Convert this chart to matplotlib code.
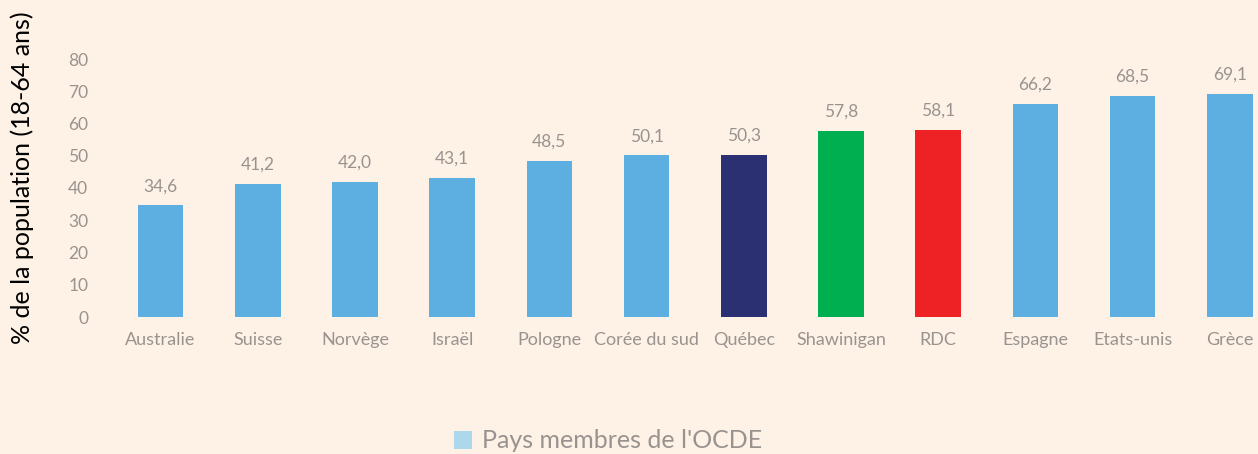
import matplotlib
matplotlib.use("Agg")
import matplotlib.pyplot as plt
from matplotlib.patches import Patch

categories = ["Australie", "Suisse", "Norvège", "Israël", "Pologne", "Corée du sud",
              "Québec", "Shawinigan", "RDC", "Espagne", "Etats-unis", "Grèce"]
values = [34.6, 41.2, 42.0, 43.1, 48.5, 50.1, 50.3, 57.8, 58.1, 66.2, 68.5, 69.1]
value_labels = ["34,6", "41,2", "42,0", "43,1", "48,5", "50,1", "50,3", "57,8", "58,1", "66,2", "68,5", "69,1"]
yticks = [0, 10, 20, 30, 40, 50, 60, 70, 80]

BLUE = "#5DAFE1"
colors = [BLUE] * 6 + ["#2A3072", "#00B050", "#EE2124"] + [BLUE] * 3
BG = "#FEF2E7"
GREY = "#99938F"
FONT = "Lato"

W, H = 1258, 454
fig = plt.figure(figsize=(W / 100, H / 100), dpi=100, facecolor=BG)
left, right = 112 / W, 1258 / W
bottom, top = (H - 317) / H, (H - 59) / H
ax = fig.add_axes([left, bottom, right - left, top - bottom], facecolor=BG)

x = list(range(len(categories)))
bars = ax.bar(x, values, width=0.47, color=colors, zorder=2)
for xi, v, lab in zip(x, values, value_labels):
    ax.annotate(lab, (xi, v), xytext=(0, 8), textcoords="offset points",
                ha="center", va="bottom", fontsize=12.5, color=GREY,
                family=FONT, annotation_clip=False)

ax.set_xlim(-0.5, 11.29)
ax.set_ylim(0, 80)
ax.set_yticks(yticks)
ax.set_yticklabels([str(t) for t in yticks], family=FONT, fontsize=12.5, color=GREY)
ax.set_xticks(x)
ax.set_xticklabels(categories, family=FONT, fontsize=13, color=GREY)
ax.tick_params(axis="y", length=0, pad=17)
ax.tick_params(axis="x", length=0, pad=11)
for s in ax.spines.values():
    s.set_visible(False)

fig.text(22 / W, 1 - 178 / H, "% de la population (18-64 ans)", rotation=90,
         ha="center", va="center", fontsize=18, color="black", family=FONT)

handle = Patch(facecolor="#ADD8EC", edgecolor="none", label="Pays membres de l'OCDE")
fig.legend(handles=[handle], loc="center", bbox_to_anchor=(608 / W, 1 - 441 / H),
           frameon=False, prop={"family": FONT, "size": 18},
           handlelength=0.7, handleheight=0.7, handletextpad=0.4, labelcolor=GREY)

fig.savefig("out.png", dpi=100, facecolor=BG)
